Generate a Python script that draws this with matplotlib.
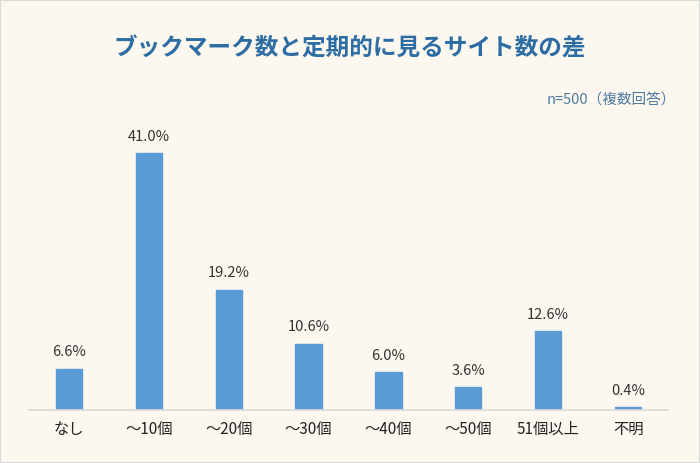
import matplotlib.pyplot as plt
from matplotlib.patches import Rectangle

plt.rcParams['font.family'] = ['Noto Sans CJK JP', 'DejaVu Sans']

categories = ['なし', '～10個', '～20個', '～30個', '～40個', '～50個', '51個以上', '不明']
values = [6.6, 41.0, 19.2, 10.6, 6.0, 3.6, 12.6, 0.4]
title = 'ブックマーク数と定期的に見るサイト数の差'
note = 'n=500（複数回答）'

W, H = 700, 463
fig = plt.figure(figsize=(W / 100, H / 100), dpi=100)
fig.patch.set_facecolor('#fcf8f0')
fig.patches.append(Rectangle((0, 0), 1, 1, transform=fig.transFigure,
                             fill=False, edgecolor='#d9d9d9', linewidth=1.5))

ax = fig.add_axes([29 / W, (H - 410) / H, 639 / W, 282 / H])
ax.set_facecolor('none')
x = range(len(categories))
ax.bar(x, values, width=0.33, color='#5b9bd5', edgecolor='#5b9bd5')
for xi, v in zip(x, values):
    ax.text(xi, v + 1.5, f'{v:.1f}%', ha='center', va='bottom',
            fontsize=10.5, color='#333333')

ax.set_xlim(-0.5, len(categories) - 0.5)
ax.set_ylim(0, 45)
ax.set_xticks(list(x))
ax.set_xticklabels(categories, fontsize=11, color='#222222')
ax.tick_params(axis='x', length=0, pad=8)
ax.set_yticks([])
for s in ['top', 'right', 'left']:
    ax.spines[s].set_visible(False)
ax.spines['bottom'].set_color('#d9d9d9')
ax.spines['bottom'].set_linewidth(1.2)

fig.text(0.5, (H - 49) / H, title, ha='center', va='center',
         fontsize=17, fontweight='bold', color='#2e6da4')
fig.text(676 / W, (H - 100) / H, note, ha='right', va='center',
         fontsize=10.5, color='#4f7aa0')

fig.savefig('out.png', dpi=100, facecolor=fig.get_facecolor())
